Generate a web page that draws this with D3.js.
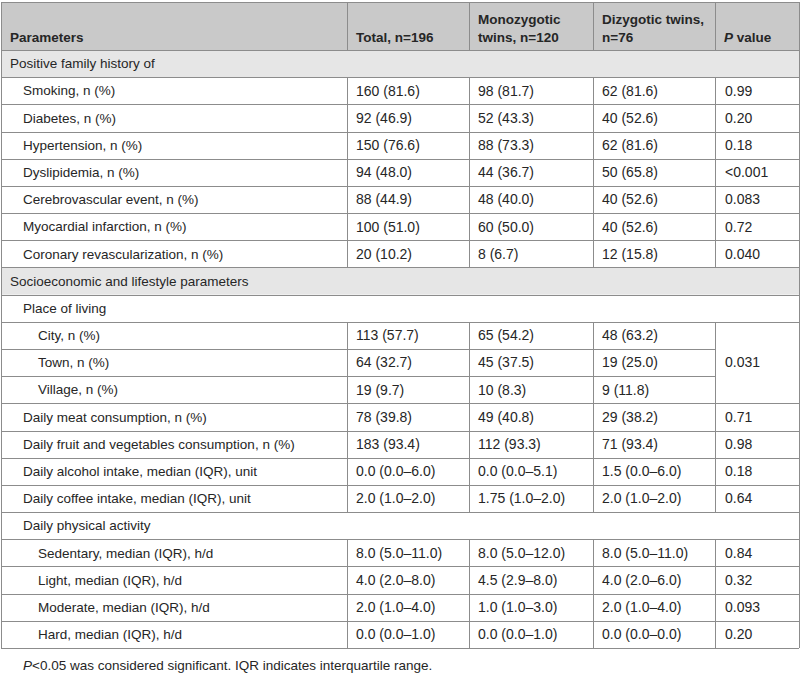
<!DOCTYPE html>
<html><head><meta charset="utf-8">
<script src="https://cdn.jsdelivr.net/npm/d3@7"></script>
<style>html,body{margin:0;padding:0;background:#fff;}</style>
</head><body>
<script>
// ---- data ----
const headers = ["Parameters", "Total, n=196", "Monozygotic|twins, n=120", "Dizygotic twins,|n=76", "P value"];
const labels = [
  "Positive family history of",
  "Smoking, n (%)", "Diabetes, n (%)", "Hypertension, n (%)", "Dyslipidemia, n (%)",
  "Cerebrovascular event, n (%)", "Myocardial infarction, n (%)", "Coronary revascularization, n (%)",
  "Socioeconomic and lifestyle parameters",
  "Place of living",
  "City, n (%)", "Town, n (%)", "Village, n (%)",
  "Daily meat consumption, n (%)", "Daily fruit and vegetables consumption, n (%)",
  "Daily alcohol intake, median (IQR), unit", "Daily coffee intake, median (IQR), unit",
  "Daily physical activity",
  "Sedentary, median (IQR), h/d", "Light, median (IQR), h/d", "Moderate, median (IQR), h/d", "Hard, median (IQR), h/d"
];
const levels = [0,1,1,1,1,1,1,1,0,1,2,2,2,1,1,1,1,1,2,2,2,2];
const sectionRows = [0,8,9,17];
const total = [null,"160 (81.6)","92 (46.9)","150 (76.6)","94 (48.0)","88 (44.9)","100 (51.0)","20 (10.2)",null,null,
  "113 (57.7)","64 (32.7)","19 (9.7)","78 (39.8)","183 (93.4)","0.0 (0.0–6.0)","2.0 (1.0–2.0)",null,
  "8.0 (5.0–11.0)","4.0 (2.0–8.0)","2.0 (1.0–4.0)","0.0 (0.0–1.0)"];
const mono = [null,"98 (81.7)","52 (43.3)","88 (73.3)","44 (36.7)","48 (40.0)","60 (50.0)","8 (6.7)",null,null,
  "65 (54.2)","45 (37.5)","10 (8.3)","49 (40.8)","112 (93.3)","0.0 (0.0–5.1)","1.75 (1.0–2.0)",null,
  "8.0 (5.0–12.0)","4.5 (2.9–8.0)","1.0 (1.0–3.0)","0.0 (0.0–1.0)"];
const di = [null,"62 (81.6)","40 (52.6)","62 (81.6)","50 (65.8)","40 (52.6)","40 (52.6)","12 (15.8)",null,null,
  "48 (63.2)","19 (25.0)","9 (11.8)","29 (38.2)","71 (93.4)","1.5 (0.0–6.0)","2.0 (1.0–2.0)",null,
  "8.0 (5.0–11.0)","4.0 (2.0–6.0)","2.0 (1.0–4.0)","0.0 (0.0–0.0)"];
const pvals = [null,"0.99","0.20","0.18","<0.001","0.083","0.72","0.040",null,null,
  "0.031",null,null,"0.71","0.98","0.18","0.64",null,
  "0.84","0.32","0.093","0.20"];
const pMerged = {10: 3}; // row 10 p-value spans 3 rows
const footnote = " was considered significant. IQR indicates interquartile range.";

// ---- layout ----
const W = 800, H = 678;
const colX = [1, 347, 469, 593, 715, 799];
const tableTop = 2, headerBottom = 50, tableBottom = 648;
const n = labels.length;
const y = d3.scaleLinear().domain([0, n]).range([headerBottom, tableBottom]);
const indent = d3.scaleOrdinal().domain([0,1,2]).range([9, 22, 37]);
const font = "'Liberation Sans', Arial, Helvetica, sans-serif";
const textCol = "#262626", lineCol = "#8c8c8c";

const svg = d3.select("body").append("svg").attr("width", W).attr("height", H)
  .style("font-family", font).style("font-size", "13.5px");

// backgrounds
svg.append("rect").attr("x", colX[0]).attr("y", tableTop).attr("width", colX[5]-colX[0])
  .attr("height", headerBottom - tableTop).attr("fill", "#c9c9c9");
svg.selectAll("rect.sec").data(sectionRows.filter(i => levels[i] === 0)).enter().append("rect")
  .attr("class","sec").attr("x", colX[0]).attr("y", d => y(d)).attr("width", colX[5]-colX[0])
  .attr("height", d => y(d+1)-y(d)).attr("fill", "#e6e6e6");

const lines = svg.append("g").attr("stroke", lineCol).attr("stroke-width", 1).attr("shape-rendering","crispEdges");
function hl(x1, x2, yy){ lines.append("line").attr("x1",x1).attr("x2",x2).attr("y1",Math.round(yy)+0.5).attr("y2",Math.round(yy)+0.5); }
function vl(xx, y1, y2){ lines.append("line").attr("x1",Math.round(xx)+0.5).attr("x2",Math.round(xx)+0.5).attr("y1",y1).attr("y2",y2); }

// outer border
hl(colX[0], colX[5], tableTop);
hl(colX[0], colX[5], headerBottom);
hl(colX[0], colX[5], tableBottom);
vl(colX[0], tableTop, tableBottom);
vl(colX[5], tableTop, tableBottom);
for (let c = 1; c < 5; c++) vl(colX[c], tableTop, headerBottom);

// rows
const merged = new Set();
Object.entries(pMerged).forEach(([r, span]) => { for (let k = 1; k < span; k++) merged.add(+r + k); });
for (let i = 0; i < n; i++) {
  const isSec = sectionRows.includes(i);
  if (i > 0) {
    if (merged.has(i)) hl(colX[0], colX[4], y(i));
    else hl(colX[0], colX[5], y(i));
  }
  if (!isSec) {
    for (let c = 1; c < 5; c++) vl(colX[c], y(i), y(i+1));
  }
}

// header text
const ht = svg.append("g").attr("fill", textCol).attr("font-weight", "bold");
headers.forEach((h, c) => {
  const parts = h.split("|");
  const tx = colX[c] + 9;
  if (c === 4) {
    const t = ht.append("text").attr("x", tx).attr("y", 37).attr("dy","0.35em");
    t.append("tspan").attr("font-style","italic").text("P");
    t.append("tspan").text(" value");
    return;
  }
  if (parts.length === 1) {
    ht.append("text").attr("x", tx).attr("y", 37).attr("dy","0.35em").text(parts[0]);
  } else {
    ht.append("text").attr("x", tx).attr("y", 19).attr("dy","0.35em").text(parts[0]);
    ht.append("text").attr("x", tx).attr("y", 37).attr("dy","0.35em").text(parts[1]);
  }
});

// body text
const bt = svg.append("g").attr("fill", textCol);
labels.forEach((lab, i) => {
  const cy = (y(i) + y(i+1)) / 2;
  bt.append("text").attr("x", colX[0] + indent(levels[i])).attr("y", cy).attr("dy","0.35em").text(lab);
  [total, mono, di].forEach((arr, k) => {
    if (arr[i] != null) bt.append("text").attr("x", colX[k+1] + 9).attr("y", cy).attr("dy","0.35em")
      .style("font-size","14px").text(arr[i]);
  });
  if (pvals[i] != null) {
    const span = pMerged[i] || 1;
    const pcy = (y(i) + y(i+span)) / 2;
    bt.append("text").attr("x", colX[4] + 10).attr("y", pcy).attr("dy","0.35em")
      .style("font-size","14px").text(pvals[i]);
  }
});

// footnote
const fn = svg.append("text").attr("x", 23).attr("y", 665).attr("dy","0.35em").attr("fill", textCol);
fn.append("tspan").attr("font-style","italic").text("P");
fn.append("tspan").text("<0.05" + footnote);
</script>
</body></html>
